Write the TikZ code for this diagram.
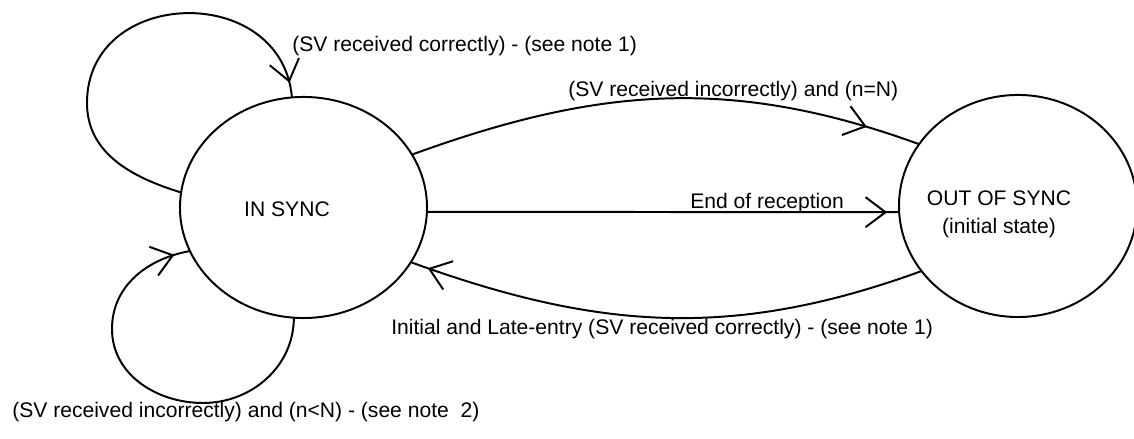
\documentclass[tikz,border=0pt]{standalone}
\usepackage{fontspec}
\setmainfont{Liberation Sans}
\usetikzlibrary{shapes.geometric,arrows.meta,decorations.markings}

\tikzset{
  statenode/.style={draw,ellipse,line width=1.4pt,inner sep=0pt,outer sep=0pt},
  lbl/.style={font=\fontsize{15}{20.6}\selectfont,inner sep=0pt},
  trans/.style={line width=1.4pt,postaction={decorate},
    decoration={markings,mark=at position -#1 with {\arrow{Straight Barb[length=0.5cm,width=0.75cm]}}}}
}

\begin{document}
\begin{tikzpicture}[x=0.025cm,y=0.025cm]

  \useasboundingbox (0,0) rectangle (1134,439);

  % states
  \node[statenode,minimum width=6.175cm,minimum height=5.525cm] (insync) at (303.5,231.5) {};
  \node[statenode,minimum width=5.95cm,minimum height=5.55cm] (outsync) at (1018,233) {};
  \node[lbl,anchor=base] (insynctxt) at (287,222.5) {IN SYNC};
  \node[lbl,anchor=base,align=center] (outsynctxt) at (999,205) {OUT OF SYNC\\(initial state)};

  % loops on IN SYNC
  \coordinate (toploop) at (87,336);
  \draw[trans=0.375cm] (insync.173) to[out=163,in=-90] (toploop)
    to[out=90,in=95,looseness=1.45] (insync.96);
  \coordinate (lowloopB) at (203,36);
  \coordinate (lowloopL) at (112,110);
  \draw[trans=0.4cm] (insync.265) to[out=-90,in=0] (lowloopB)
    to[out=180,in=-90] (lowloopL) to[out=90,in=190] (insync.201);

  % transitions between the states
  \draw[trans=1.375cm] (insync.26) to[out=20,in=160] (outsync.148);
  \draw[trans=0.3cm] (insync.-2.5) -- (outsync.183);
  \draw[trans=0.45cm] (outsync.214) to[out=200,in=-20] (insync.-27);

  % labels
  \node[lbl,anchor=base west] (lblcorrect) at (292,387) {(SV received correctly) - (see note 1)};
  \node[lbl,anchor=base west] (lblnN) at (568,342.5) {(SV received incorrectly) and (n=N)};
  \node[lbl,anchor=base west] (lblend) at (690,230) {End of reception};
  \node[lbl,anchor=base west] (lbllate) at (391,104.5) {Initial and Late-entry (SV received correctly) - (see note 1)};
  \node[lbl,anchor=base west] (lblnlt) at (12,21) {(SV received incorrectly) and (n<N) - (see note~~2)};

\end{tikzpicture}
\end{document}
